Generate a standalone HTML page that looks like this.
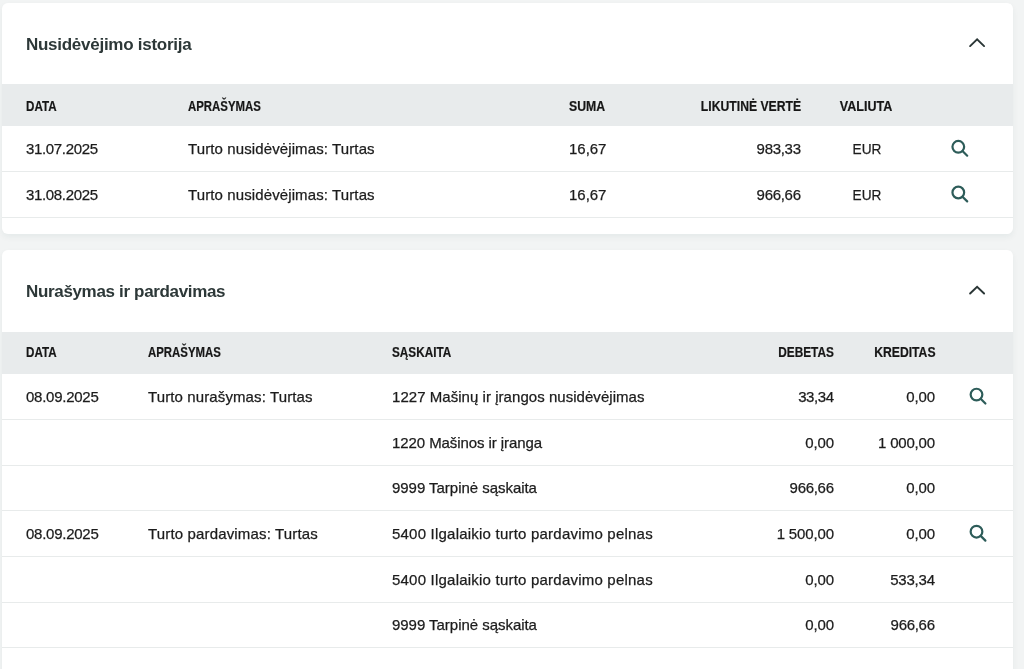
<!DOCTYPE html>
<html><head><meta charset="utf-8"><style>
html,body{margin:0;padding:0}
body{width:1024px;height:669px;overflow:hidden;background:#f2f4f4;position:relative;font-family:"Liberation Sans",sans-serif}
#w{position:absolute;left:0;top:0;width:1024px;height:669px;will-change:transform}
.card{position:absolute;background:#fff;border-radius:6px;box-shadow:0 3px 6px rgba(20,60,60,0.06)}
span{position:absolute;white-space:nowrap;line-height:20px}
.r{text-align:right}
.c{width:200px;text-align:center}
.ttl{font-size:17px;font-weight:700;color:#2d3838}
.hd{font-size:14px;font-weight:700;color:#161616;-webkit-text-stroke:0.2px #161616}
.tx{font-size:15px;color:#1c1c1c;-webkit-text-stroke:0.25px #1c1c1c}
</style></head><body><div id="w">
<div class="card" style="left:2px;top:3px;width:1011px;height:231px"></div>
<div class="card" style="left:2px;top:250px;width:1011px;height:460px"></div>
<span class="ttl" style="left:26px;top:35px;letter-spacing:-0.27px;">Nusidėvėjimo istorija</span>
<svg style="position:absolute;left:965px;top:27px" width="24" height="24" viewBox="0 0 24 24"><polyline points="5.10,19.10 12.10,12.30 19.10,19.10" fill="none" stroke="#2a3636" stroke-width="1.9" stroke-linecap="round" stroke-linejoin="miter"/></svg>
<div style="position:absolute;left:2px;top:84px;width:1011px;height:42px;background:#e8ebec;"></div>
<span class="hd" style="left:26.0px;top:95.5px;transform:scaleX(0.8306);transform-origin:0 0;">DATA</span>
<span class="hd" style="left:187.5px;top:95.5px;transform:scaleX(0.8157);transform-origin:0 0;">APRAŠYMAS</span>
<span class="hd" style="left:569.0px;top:95.5px;transform:scaleX(0.8756);transform-origin:0 0;">SUMA</span>
<span class="hd r" style="right:223px;top:95.5px;transform:scaleX(0.8711);transform-origin:100% 0;">LIKUTINĖ VERTĖ</span>
<span class="hd c" style="left:766.0px;top:95.5px;transform:scaleX(0.8966);transform-origin:50% 0;">VALIUTA</span>
<span class="tx" style="left:26px;top:139px;letter-spacing:-0.333px;">31.07.2025</span>
<span class="tx" style="left:188px;top:139px;letter-spacing:0.112px;">Turto nusidėvėjimas: Turtas</span>
<span class="tx" style="left:569px;top:139px;letter-spacing:-0.025px;">16,67</span>
<span class="tx r" style="right:223.3px;top:139px;letter-spacing:-0.3px;">983,33</span>
<span class="tx c" style="left:766.6px;top:139px;transform:scaleX(0.91);transform-origin:50% 0;">EUR</span>
<svg style="position:absolute;left:948px;top:136px" width="24" height="24" viewBox="0 0 24 24"><circle cx="10.30" cy="10.80" r="5.85" fill="none" stroke="#2d5c59" stroke-width="2.2"/><line x1="14.50" y1="15.00" x2="19.20" y2="19.70" stroke="#2d5c59" stroke-width="2.2" stroke-linecap="round"/></svg>
<span class="tx" style="left:26px;top:185px;letter-spacing:-0.333px;">31.08.2025</span>
<span class="tx" style="left:188px;top:185px;letter-spacing:0.112px;">Turto nusidėvėjimas: Turtas</span>
<span class="tx" style="left:569px;top:185px;letter-spacing:-0.025px;">16,67</span>
<span class="tx r" style="right:223.3px;top:185px;letter-spacing:-0.3px;">966,66</span>
<span class="tx c" style="left:766.6px;top:185px;transform:scaleX(0.91);transform-origin:50% 0;">EUR</span>
<svg style="position:absolute;left:948px;top:182px" width="24" height="24" viewBox="0 0 24 24"><circle cx="10.30" cy="10.50" r="5.85" fill="none" stroke="#2d5c59" stroke-width="2.2"/><line x1="14.50" y1="14.70" x2="19.20" y2="19.40" stroke="#2d5c59" stroke-width="2.2" stroke-linecap="round"/></svg>
<div style="position:absolute;left:2px;top:171px;width:1011px;height:1px;background:#e8ebeb;"></div>
<div style="position:absolute;left:2px;top:217px;width:1011px;height:1px;background:#e8ebeb;"></div>
<span class="ttl" style="left:26px;top:282px;letter-spacing:-0.336px;">Nurašymas ir pardavimas</span>
<svg style="position:absolute;left:965px;top:274px" width="24" height="24" viewBox="0 0 24 24"><polyline points="5.10,19.50 12.10,12.70 19.10,19.50" fill="none" stroke="#2a3636" stroke-width="1.9" stroke-linecap="round" stroke-linejoin="miter"/></svg>
<div style="position:absolute;left:2px;top:332px;width:1011px;height:42px;background:#e8ebec;"></div>
<span class="hd" style="left:26.0px;top:341.7px;transform:scaleX(0.8306);transform-origin:0 0;">DATA</span>
<span class="hd" style="left:147.5px;top:341.7px;transform:scaleX(0.8157);transform-origin:0 0;">APRAŠYMAS</span>
<span class="hd" style="left:392.0px;top:341.7px;transform:scaleX(0.8393);transform-origin:0 0;">SĄSKAITA</span>
<span class="hd r" style="right:190px;top:341.7px;transform:scaleX(0.8446);transform-origin:100% 0;">DEBETAS</span>
<span class="hd r" style="right:88.2px;top:341.7px;transform:scaleX(0.8696);transform-origin:100% 0;">KREDITAS</span>
<span class="tx" style="left:26px;top:387px;letter-spacing:-0.256px;">08.09.2025</span>
<span class="tx" style="left:148px;top:387px;letter-spacing:0.114px;">Turto nurašymas: Turtas</span>
<span class="tx" style="left:392px;top:387px;letter-spacing:0.043px;">1227 Mašinų ir įrangos nusidėvėjimas</span>
<span class="tx r" style="right:190.43px;top:387px;letter-spacing:-0.425px;">33,34</span>
<span class="tx r" style="right:89.13px;top:387px;letter-spacing:-0.133px;">0,00</span>
<svg style="position:absolute;left:966px;top:384px" width="24" height="24" viewBox="0 0 24 24"><circle cx="10.50" cy="10.60" r="5.85" fill="none" stroke="#2d5c59" stroke-width="2.2"/><line x1="14.70" y1="14.80" x2="19.40" y2="19.50" stroke="#2d5c59" stroke-width="2.2" stroke-linecap="round"/></svg>
<span class="tx" style="left:392px;top:433px;letter-spacing:-0.076px;">1220 Mašinos ir įranga</span>
<span class="tx r" style="right:190.13px;top:433px;letter-spacing:-0.133px;">0,00</span>
<span class="tx r" style="right:89.21px;top:433px;letter-spacing:-0.214px;">1 000,00</span>
<span class="tx" style="left:392px;top:478px;letter-spacing:-0.035px;">9999 Tarpinė sąskaita</span>
<span class="tx r" style="right:190.3px;top:478px;letter-spacing:-0.3px;">966,66</span>
<span class="tx r" style="right:89.13px;top:478px;letter-spacing:-0.133px;">0,00</span>
<span class="tx" style="left:26px;top:524px;letter-spacing:-0.256px;">08.09.2025</span>
<span class="tx" style="left:148px;top:524px;letter-spacing:0.157px;">Turto pardavimas: Turtas</span>
<span class="tx" style="left:392px;top:524px;letter-spacing:0.216px;">5400 Ilgalaikio turto pardavimo pelnas</span>
<span class="tx r" style="right:190.14px;top:524px;letter-spacing:-0.143px;">1 500,00</span>
<span class="tx r" style="right:89.13px;top:524px;letter-spacing:-0.133px;">0,00</span>
<svg style="position:absolute;left:966px;top:521px" width="24" height="24" viewBox="0 0 24 24"><circle cx="10.50" cy="10.70" r="5.85" fill="none" stroke="#2d5c59" stroke-width="2.2"/><line x1="14.70" y1="14.90" x2="19.40" y2="19.60" stroke="#2d5c59" stroke-width="2.2" stroke-linecap="round"/></svg>
<span class="tx" style="left:392px;top:570px;letter-spacing:0.216px;">5400 Ilgalaikio turto pardavimo pelnas</span>
<span class="tx r" style="right:190.13px;top:570px;letter-spacing:-0.133px;">0,00</span>
<span class="tx r" style="right:89.2px;top:570px;letter-spacing:-0.2px;">533,34</span>
<span class="tx" style="left:392px;top:615px;letter-spacing:-0.035px;">9999 Tarpinė sąskaita</span>
<span class="tx r" style="right:190.13px;top:615px;letter-spacing:-0.133px;">0,00</span>
<span class="tx r" style="right:89.3px;top:615px;letter-spacing:-0.3px;">966,66</span>
<div style="position:absolute;left:2px;top:419px;width:1011px;height:1px;background:#e8ebeb;"></div>
<div style="position:absolute;left:2px;top:465px;width:1011px;height:1px;background:#e8ebeb;"></div>
<div style="position:absolute;left:2px;top:510px;width:1011px;height:1px;background:#e8ebeb;"></div>
<div style="position:absolute;left:2px;top:556px;width:1011px;height:1px;background:#e8ebeb;"></div>
<div style="position:absolute;left:2px;top:602px;width:1011px;height:1px;background:#e8ebeb;"></div>
<div style="position:absolute;left:2px;top:647px;width:1011px;height:1px;background:#e8ebeb;"></div>
</div></body></html>
